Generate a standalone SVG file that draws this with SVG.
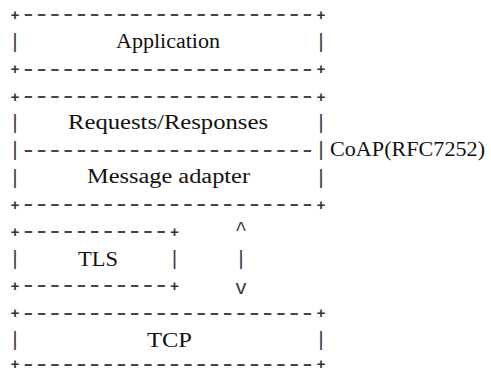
<svg xmlns="http://www.w3.org/2000/svg" width="491" height="374" viewBox="0 0 491 374">
<style>
.d{font-family:"Liberation Mono",monospace;font-size:17px;font-weight:bold;letter-spacing:-1.333px;fill:#444}
.p{font-family:"Liberation Mono",monospace;font-size:15px;font-weight:bold;fill:#333;text-anchor:middle}
.b{font-family:"Liberation Mono",monospace;font-size:20px;fill:#3a3a3a;text-anchor:middle}
.t{font-family:"Liberation Serif",serif;font-size:20px;fill:#111}
</style>
<rect width="491" height="374" fill="#fff"/>
<g id="application">
<text class="p" x="15" y="20.2">+</text><text class="d" transform="translate(20.65,19.4) scale(1.5,1)">----------------------</text><text class="p" x="320.9" y="20.2">+</text>
<text class="b" x="15" y="48">|</text><text class="b" x="320.9" y="48">|</text>
<text class="t" x="116" y="48" textLength="104" lengthAdjust="spacingAndGlyphs">Application</text>
<text class="p" x="15" y="74.4">+</text><text class="d" transform="translate(20.65,73.6) scale(1.5,1)">----------------------</text><text class="p" x="320.9" y="74.4">+</text>
</g>
<g id="coap">
<text class="p" x="15" y="101.5">+</text><text class="d" transform="translate(20.65,100.7) scale(1.5,1)">----------------------</text><text class="p" x="320.9" y="101.5">+</text>
<text class="b" x="15" y="129.4">|</text><text class="b" x="320.9" y="129.4">|</text>
<text class="t" x="68" y="129" textLength="200" lengthAdjust="spacingAndGlyphs">Requests/Responses</text>
<text class="b" x="15" y="156">|</text>
<text class="d" transform="translate(20.65,154.9) scale(1.5,1)">----------------------</text>
<text class="b" x="320.9" y="156">|</text>
<text class="t" x="330" y="156" textLength="155" lengthAdjust="spacingAndGlyphs">CoAP(RFC7252)</text>
<text class="b" x="15" y="183.6">|</text><text class="b" x="320.9" y="183.6">|</text>
<text class="t" x="87" y="183" textLength="163" lengthAdjust="spacingAndGlyphs">Message adapter</text>
<text class="p" x="15" y="209.9">+</text><text class="d" transform="translate(20.65,209.1) scale(1.5,1)">----------------------</text><text class="p" x="320.9" y="209.9">+</text>
</g>
<g id="tls">
<text class="p" x="15" y="237">+</text><text class="d" transform="translate(20.65,236.2) scale(1.5,1)">-----------</text><text class="p" x="174.6" y="237">+</text>
<text class="b" x="15" y="265">|</text><text class="b" x="174.6" y="265">|</text>
<text class="t" x="78" y="266" textLength="40" lengthAdjust="spacingAndGlyphs">TLS</text>
<text class="p" x="15" y="291.2">+</text><text class="d" transform="translate(20.65,290.4) scale(1.5,1)">-----------</text><text class="p" x="174.6" y="291.2">+</text>
</g>
<g id="connectors">
<text class="b" x="241.1" y="235">^</text>
<text class="b" x="241.1" y="265">|</text>
<text class="b" x="241.1" y="294">v</text>
</g>
<g id="tcp">
<text class="p" x="15" y="318.3">+</text><text class="d" transform="translate(20.65,317.5) scale(1.5,1)">----------------------</text><text class="p" x="320.9" y="318.3">+</text>
<text class="b" x="15" y="346.2">|</text><text class="b" x="320.9" y="346.2">|</text>
<text class="t" x="147" y="347" textLength="45" lengthAdjust="spacingAndGlyphs">TCP</text>
<text class="p" x="15" y="369.4">+</text><text class="d" transform="translate(20.65,368.9) scale(1.5,1)">----------------------</text><text class="p" x="320.9" y="369.4">+</text>
</g>
</svg>
